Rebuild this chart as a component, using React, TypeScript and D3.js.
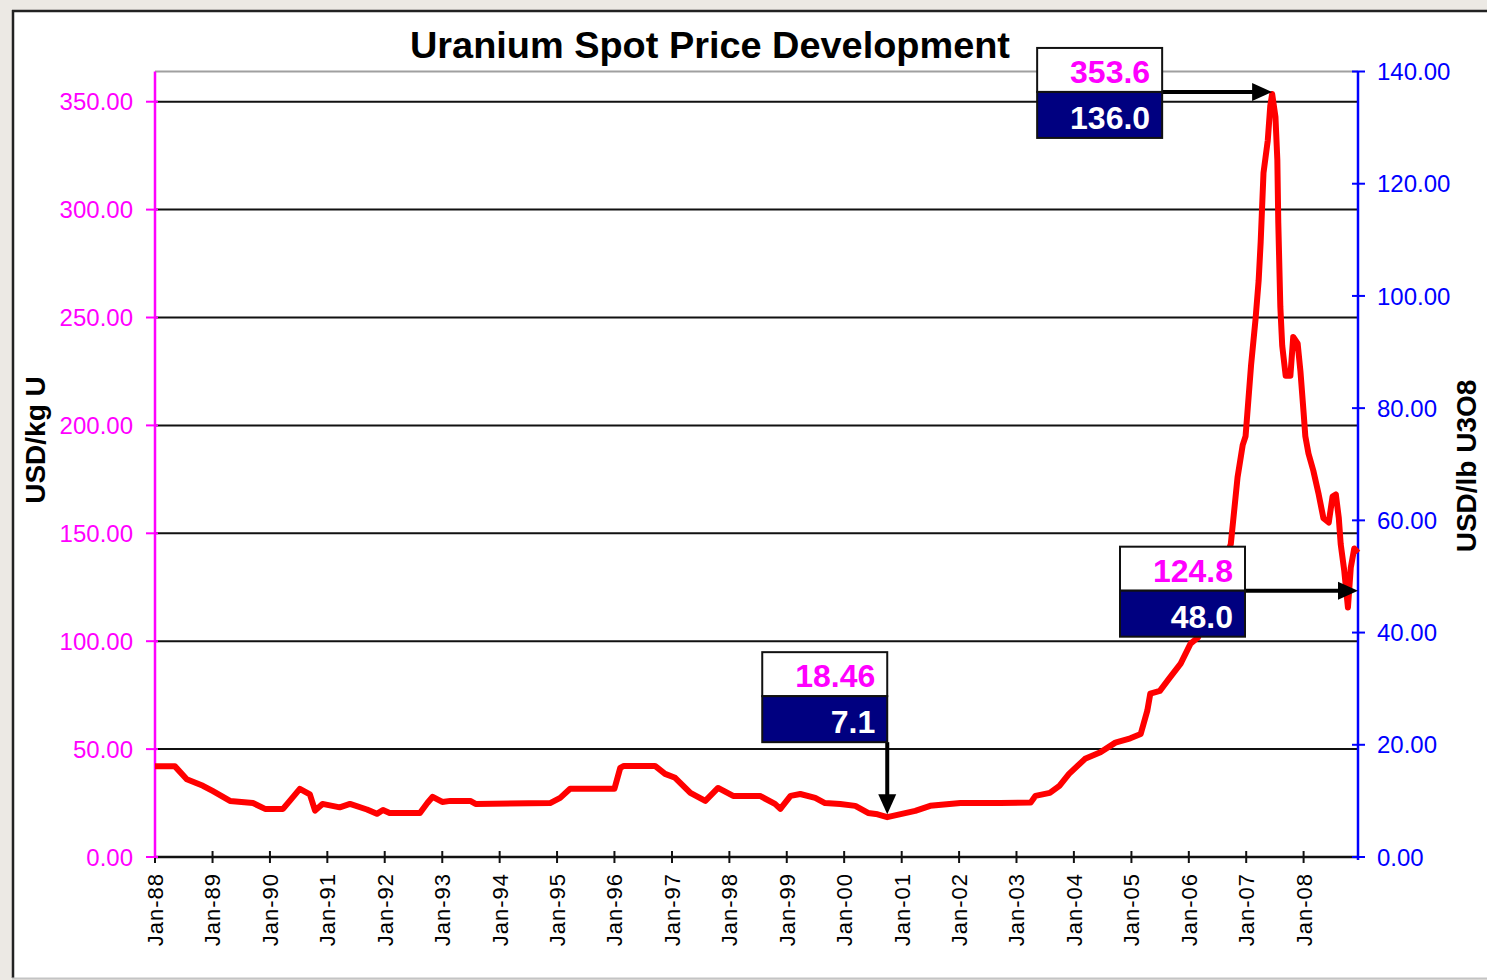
import React, { useEffect, useRef } from 'react';
import * as d3 from 'd3';

const chartTitle = 'Uranium Spot Price Development';
const leftTitle = 'USD/kg U';
const rightTitle = 'USD/lb U3O8';

// spot price, USD per kg U
const priceDates = [
  '1988-01-01', '1988-05-07', '1988-07-21', '1988-11-01', '1989-01-01', '1989-04-22', '1989-09-15', '1989-12-01',
  '1990-03-25', '1990-05-07', '1990-07-10', '1990-09-12', '1990-10-15', '1990-12-01', '1991-03-21', '1991-05-25',
  '1991-09-10', '1991-11-12', '1991-12-21', '1992-02-01', '1992-08-12', '1992-09-28', '1992-11-01', '1993-01-01',
  '1993-02-21', '1993-06-28', '1993-08-01', '1994-11-18', '1995-01-21', '1995-03-25', '1996-01-01', '1996-02-07',
  '1996-03-01', '1996-09-15', '1996-11-18', '1997-01-21', '1997-04-28', '1997-08-01', '1997-10-21', '1998-01-25',
  '1998-07-15', '1998-10-18', '1998-11-21', '1999-01-25', '1999-03-28', '1999-07-01', '1999-09-01', '1999-12-07',
  '2000-03-12', '2000-06-01', '2000-08-01', '2000-10-01', '2001-03-28', '2001-07-01', '2002-01-10', '2002-09-21',
  '2003-04-01', '2003-05-01', '2003-08-01', '2003-10-01', '2003-12-01', '2004-03-12', '2004-06-18', '2004-09-21',
  '2004-12-25', '2005-03-01', '2005-04-12', '2005-05-01', '2005-07-01', '2005-09-01', '2005-11-10', '2006-01-12',
  '2006-02-28', '2006-05-18', '2006-09-25', '2006-11-07', '2006-12-10', '2006-12-28', '2007-02-01', '2007-03-01',
  '2007-03-21', '2007-04-03', '2007-04-21', '2007-05-18', '2007-06-03', '2007-06-15', '2007-07-06', '2007-07-18',
  '2007-07-24', '2007-08-06', '2007-08-18', '2007-09-09', '2007-10-09', '2007-10-27', '2007-11-24', '2007-12-12',
  '2008-01-01', '2008-01-12', '2008-02-01', '2008-03-03', '2008-04-06', '2008-05-06', '2008-06-09', '2008-07-03',
  '2008-07-24', '2008-08-12', '2008-08-24', '2008-09-15', '2008-10-09', '2008-10-27', '2008-11-18', '2008-12-12'
];
const priceKgU = [
  42, 42, 36, 33, 30.6, 26, 25, 22.3,
  22.3, 26, 31.6, 29, 21.5, 24.6, 23, 24.6,
  22, 20, 21.8, 20.4, 20.4, 25, 27.9, 25.5,
  26, 26, 24.6, 25, 27.4, 31.6, 31.6, 41.3,
  42.2, 42.2, 38.5, 36.7, 29.7, 26, 32, 28.3,
  28.3, 24.6, 22.3, 28.3, 29.2, 27.4, 25, 24.6,
  23.7, 20.4, 19.8, 18.46, 21.4, 23.7, 25, 25,
  25.2, 28.3, 29.7, 33, 38.5, 45.5, 48.5, 53,
  55, 57, 67.8, 75.7, 77, 83, 89.6, 98.9,
  101.7, 118, 145, 176, 191, 195, 228, 249,
  267, 285, 317, 332, 348, 353.6, 343, 323,
  294, 255, 237, 223, 223, 241, 238, 225,
  206, 195, 187, 179, 168, 157, 155, 167,
  168, 157, 145, 133, 115.6, 134, 143, 141
];

const leftTicks = [0, 50, 100, 150, 200, 250, 300, 350];
const rightTicks = [0, 20, 40, 60, 80, 100, 120, 140];
const gridValues = [50, 100, 150, 200, 250, 300, 350];

// callouts: value in USD/kg U (magenta) and USD/lb U3O8 (white on navy)
const calloutKgU = ['353.6', '18.46', '124.8'];
const calloutLb = ['136.0', '7.1', '48.0'];
const calloutDates = ['2007-06-15', '2000-10-01', '2008-12-12'];

const W = 1487, H = 980;
const M = { left: 155, right: 1358, top: 71.5, bottom: 857 };
const FONT = '"Liberation Sans", Arial, sans-serif';
const MAGENTA = '#ff00ff', BLUE = '#0000ff', NAVY = '#000080';

export default function App() {
  const ref = useRef<SVGSVGElement>(null);

  useEffect(() => {
    const svg = d3.select(ref.current);
    svg.selectAll('*').remove();

    const parse = d3.timeParse('%Y-%m-%d');
    const data = priceDates.map((d, i) => ({ date: parse(d) as Date, v: priceKgU[i] }));

    const x = d3.scaleTime()
      .domain([new Date(1988, 0, 1), new Date(2008, 11, 12)])
      .range([M.left, M.right]);
    const yL = d3.scaleLinear().domain([0, 364]).range([M.bottom, M.top]);
    const yR = d3.scaleLinear().domain([0, 140]).range([M.bottom, M.top]);

    // frame
    svg.append('rect').attr('width', W).attr('height', H).attr('fill', '#ece9e4');
    svg.append('rect').attr('x', 12).attr('y', 10).attr('width', W - 12).attr('height', 968).attr('fill', '#fff');
    svg.append('line').attr('x1', 12).attr('x2', W).attr('y1', 11).attr('y2', 11).attr('stroke', '#222').attr('stroke-width', 2.5);
    svg.append('line').attr('x1', 13).attr('x2', 13).attr('y1', 10).attr('y2', 978).attr('stroke', '#222').attr('stroke-width', 2.5);
    svg.append('line').attr('x1', 12).attr('x2', W).attr('y1', 978.5).attr('y2', 978.5).attr('stroke', '#c4c4c4').attr('stroke-width', 2);

    // title
    svg.append('text')
      .attr('x', 710).attr('y', 58)
      .attr('text-anchor', 'middle')
      .attr('textLength', 600).attr('lengthAdjust', 'spacingAndGlyphs')
      .style('font-family', FONT).style('font-weight', 'bold').style('font-size', '36px')
      .text(chartTitle);

    // plot top border
    svg.append('line').attr('x1', M.left).attr('x2', M.right).attr('y1', M.top).attr('y2', M.top)
      .attr('stroke', '#a0a0a0').attr('stroke-width', 2);

    // gridlines
    svg.selectAll('.grid').data(gridValues).enter().append('line')
      .attr('class', 'grid')
      .attr('x1', M.left).attr('x2', M.right)
      .attr('y1', d => yL(d)).attr('y2', d => yL(d))
      .attr('stroke', '#111').attr('stroke-width', 2);

    // x axis
    const years = d3.timeYear.range(new Date(1988, 0, 1), new Date(2008, 1, 1));
    svg.append('line').attr('x1', M.left).attr('x2', M.right).attr('y1', M.bottom).attr('y2', M.bottom)
      .attr('stroke', '#111').attr('stroke-width', 2.5);
    svg.selectAll('.xtick').data(years).enter().append('line')
      .attr('class', 'xtick')
      .attr('x1', d => x(d)).attr('x2', d => x(d))
      .attr('y1', M.bottom - 6).attr('y2', M.bottom + 6)
      .attr('stroke', '#111').attr('stroke-width', 2);
    const fmt = d3.timeFormat('%b-%y');
    svg.selectAll('.xlab').data(years).enter().append('text')
      .attr('class', 'xlab')
      .attr('transform', d => 'translate(' + x(d) + ',' + (M.bottom + 16) + ') rotate(-90)')
      .attr('text-anchor', 'end').attr('dy', '0.36em')
      .style('font-family', FONT).style('font-size', '22px').style('letter-spacing', '1px')
      .attr('fill', '#000')
      .text(d => fmt(d));

    // left axis
    svg.append('line').attr('x1', M.left).attr('x2', M.left).attr('y1', M.top).attr('y2', M.bottom)
      .attr('stroke', MAGENTA).attr('stroke-width', 2.5);
    svg.selectAll('.ltick').data(leftTicks).enter().append('line')
      .attr('class', 'ltick')
      .attr('x1', M.left - 9).attr('x2', M.left + 3)
      .attr('y1', d => yL(d)).attr('y2', d => yL(d))
      .attr('stroke', MAGENTA).attr('stroke-width', 2);
    svg.selectAll('.llab').data(leftTicks).enter().append('text')
      .attr('class', 'llab')
      .attr('x', 133).attr('y', d => yL(d)).attr('dy', '0.36em')
      .attr('text-anchor', 'end')
      .style('font-family', FONT).style('font-size', '24px')
      .attr('fill', MAGENTA)
      .text(d => d3.format('.2f')(d));

    // right axis
    svg.append('line').attr('x1', M.right).attr('x2', M.right).attr('y1', M.top).attr('y2', M.bottom + 3)
      .attr('stroke', BLUE).attr('stroke-width', 2.5);
    svg.selectAll('.rtick').data(rightTicks).enter().append('line')
      .attr('class', 'rtick')
      .attr('x1', M.right - 6).attr('x2', M.right + 7)
      .attr('y1', d => yR(d)).attr('y2', d => yR(d))
      .attr('stroke', BLUE).attr('stroke-width', 2);
    svg.selectAll('.rlab').data(rightTicks).enter().append('text')
      .attr('class', 'rlab')
      .attr('x', 1377).attr('y', d => yR(d)).attr('dy', '0.36em')
      .attr('text-anchor', 'start')
      .style('font-family', FONT).style('font-size', '24px')
      .attr('fill', BLUE)
      .text(d => d3.format('.2f')(d));

    // axis titles
    svg.append('text')
      .attr('transform', 'translate(45,440) rotate(-90)')
      .attr('text-anchor', 'middle')
      .style('font-family', FONT).style('font-weight', 'bold').style('font-size', '28px')
      .text(leftTitle);
    svg.append('text')
      .attr('transform', 'translate(1476,466) rotate(-90)')
      .attr('text-anchor', 'middle')
      .style('font-family', FONT).style('font-weight', 'bold').style('font-size', '28px')
      .text(rightTitle);

    // price line
    const line = d3.line<{ date: Date, v: number }>()
      .x(d => x(d.date))
      .y(d => yL(d.v));
    svg.append('path')
      .datum(data)
      .attr('d', line)
      .attr('fill', 'none')
      .attr('stroke', '#ff0000')
      .attr('stroke-width', 6)
      .attr('stroke-linejoin', 'round');

    // callouts
    const boxW = 125, topH = 44, botH = 46;
    function drawBox(right: number, divider: number, top: string, bottom: string) {
      const g = svg.append('g');
      g.append('rect').attr('x', right - boxW).attr('y', divider - topH).attr('width', boxW).attr('height', topH)
        .attr('fill', '#fff').attr('stroke', '#111').attr('stroke-width', 2);
      g.append('rect').attr('x', right - boxW).attr('y', divider).attr('width', boxW).attr('height', botH)
        .attr('fill', NAVY).attr('stroke', '#111').attr('stroke-width', 2);
      g.append('text').attr('x', right - 12).attr('y', divider - 9)
        .attr('text-anchor', 'end')
        .style('font-family', FONT).style('font-weight', 'bold').style('font-size', '32px')
        .attr('fill', MAGENTA).text(top);
      g.append('text').attr('x', right - 12).attr('y', divider + botH - 9)
        .attr('text-anchor', 'end')
        .style('font-family', FONT).style('font-weight', 'bold').style('font-size', '32px')
        .attr('fill', '#fff').text(bottom);
    }
    function hArrow(x0: number, x1: number, y: number) {
      svg.append('line').attr('x1', x0).attr('x2', x1 - 16).attr('y1', y).attr('y2', y)
        .attr('stroke', '#000').attr('stroke-width', 4);
      svg.append('path').attr('d', 'M' + x1 + ',' + y + 'L' + (x1 - 20) + ',' + (y - 9) + 'L' + (x1 - 20) + ',' + (y + 9) + 'Z')
        .attr('fill', '#000');
    }
    function vArrow(xp: number, y0: number, y1: number) {
      svg.append('line').attr('x1', xp).attr('x2', xp).attr('y1', y0).attr('y2', y1 - 16)
        .attr('stroke', '#000').attr('stroke-width', 4);
      svg.append('path').attr('d', 'M' + xp + ',' + y1 + 'L' + (xp - 9) + ',' + (y1 - 20) + 'L' + (xp + 9) + ',' + (y1 - 20) + 'Z')
        .attr('fill', '#000');
    }

    // peak
    const px = x(parse(calloutDates[0]) as Date), py = yL(+calloutKgU[0]) - 2;
    hArrow(px - 110, px, py);
    drawBox(px - 110, py, calloutKgU[0], calloutLb[0]);

    // low
    const lx = x(parse(calloutDates[1]) as Date), ly = yL(+calloutKgU[1]);
    vArrow(lx, ly - 75, ly - 3);
    drawBox(lx, ly - 75 - botH, calloutKgU[1], calloutLb[1]);

    // latest, pointing at the right axis
    const ry = yR(+calloutLb[2]) + 3;
    hArrow(M.right - 113, M.right, ry);
    drawBox(M.right - 113, ry, calloutKgU[2], calloutLb[2]);
  }, []);

  return (
    <svg ref={ref} width={W} height={H}
      style={{ position: 'absolute', left: 0, top: 0, display: 'block' }} />
  );
}
